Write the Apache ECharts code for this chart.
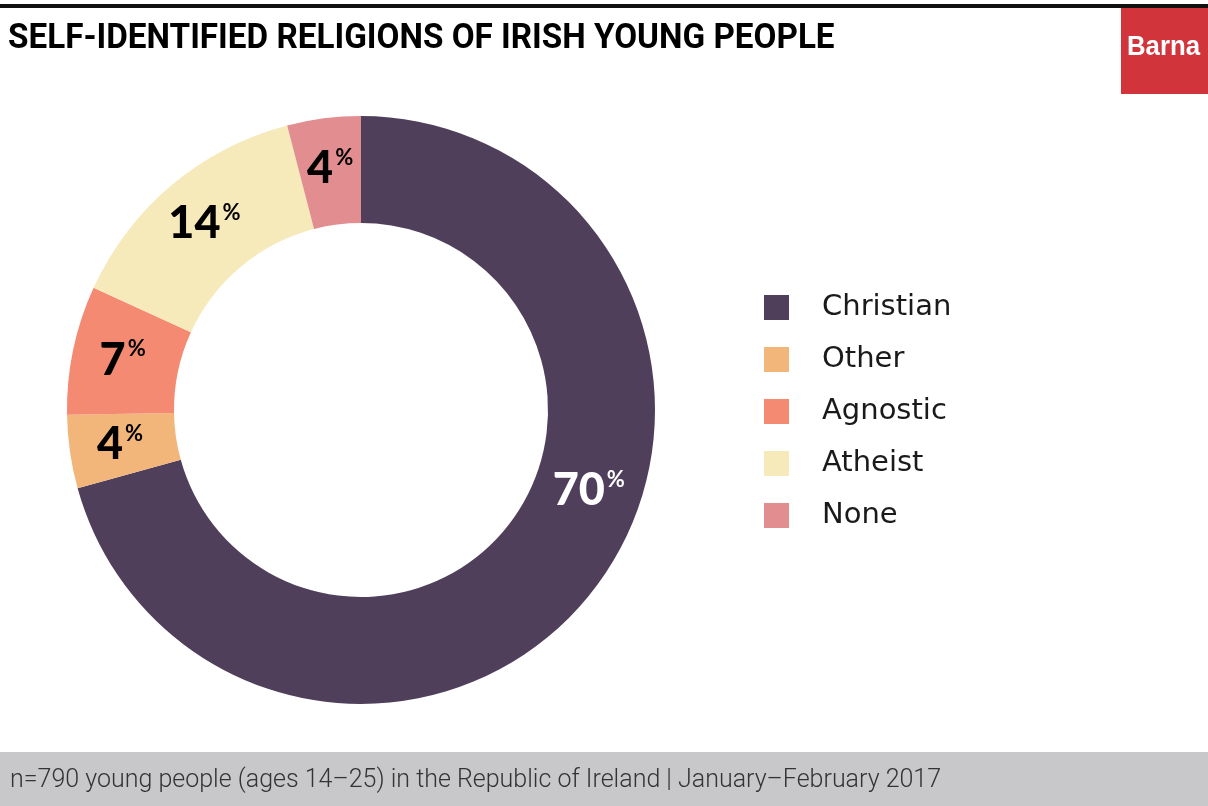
<!DOCTYPE html>
<html>
<head>
<meta charset="utf-8">
<script src="https://cdn.jsdelivr.net/npm/echarts@6/dist/echarts.min.js"></script>
<style>
html,body{margin:0;padding:0;background:#fff;}
#chart{width:1208px;height:806px;}
</style>
</head>
<body>
<div id="chart"></div>
<script>
const categories = ['Christian', 'Other', 'Agnostic', 'Atheist', 'None'];
const values = [70, 4, 7, 14, 4];
const colors = ['#4F3F5B', '#F2B67B', '#F48A71', '#F6E9BA', '#E28D8F'];
const titleText = 'SELF-IDENTIFIED RELIGIONS OF IRISH YOUNG PEOPLE';
const footnote = 'n=790 young people (ages 14\u201325) in the Republic of Ireland | January\u2013February 2017';

const chart = echarts.init(document.getElementById('chart'), null, {renderer: 'canvas'});

const data = categories.map((c, i) => ({
  name: c,
  value: values[i],
  itemStyle: {color: colors[i]},
  label: i === 0 ? {color: '#fff'} : {color: '#000'}
}));

const option = {
  animation: false,
  backgroundColor: '#fff',
  legend: {
    orient: 'vertical',
    left: 764,
    top: 293,
    padding: 0,
    itemWidth: 25,
    itemHeight: 25,
    itemGap: 23,
    icon: 'rect',
    selectedMode: false,
    data: categories,
    textStyle: {
      fontFamily: 'DejaVu Sans',
      fontSize: 29,
      color: '#1a1a1a',
      lineHeight: 25,
      padding: [0, 0, 0, 28]
    }
  },
  graphic: [
    {type: 'rect', left: 0, top: 4, shape: {width: 1208, height: 4}, style: {fill: '#111'}},
    {type: 'rect', left: 1121, top: 8, shape: {width: 87, height: 86}, style: {fill: '#D1343A'}},
    {type: 'text', left: 1127, top: 33, style: {text: 'Barna', fill: '#fff', font: 'bold 28px "Liberation Sans"'}, scaleX: 0.92},
    {type: 'text', left: 8, top: 22, style: {text: titleText, fill: '#000', font: 'bold 35px Roboto'}, scaleX: 0.95},
    {type: 'rect', left: 0, top: 752, shape: {width: 1208, height: 54}, style: {fill: '#C8C8CA'}},
    {type: 'text', left: 10, top: 768, style: {text: footnote, fill: '#333', font: '300 25px Roboto'}}
  ],
  series: [{
    type: 'pie',
    center: [361, 410],
    radius: [187, 294],
    startAngle: 90,
    clockwise: true,
    avoidLabelOverlap: false,
    label: {
      show: true,
      position: 'inside',
      formatter: p => '{n|' + p.value + '}{p|%}',
      rich: {
        n: {fontFamily: 'Lato', fontWeight: 900, fontSize: 45, lineHeight: 44},
        p: {fontFamily: 'Lato', fontWeight: 700, fontSize: 22, lineHeight: 44, verticalAlign: 'top', padding: [0, 0, 0, 2]}
      }
    },
    labelLayout: function (params) {
      if (params.dataIndex === 0) return {dx: 34, dy: -67};
      return {};
    },
    labelLine: {show: false},
    emphasis: {disabled: true},
    itemStyle: {borderWidth: 0},
    data: data
  }]
};
chart.setOption(option);
</script>
</body>
</html>
